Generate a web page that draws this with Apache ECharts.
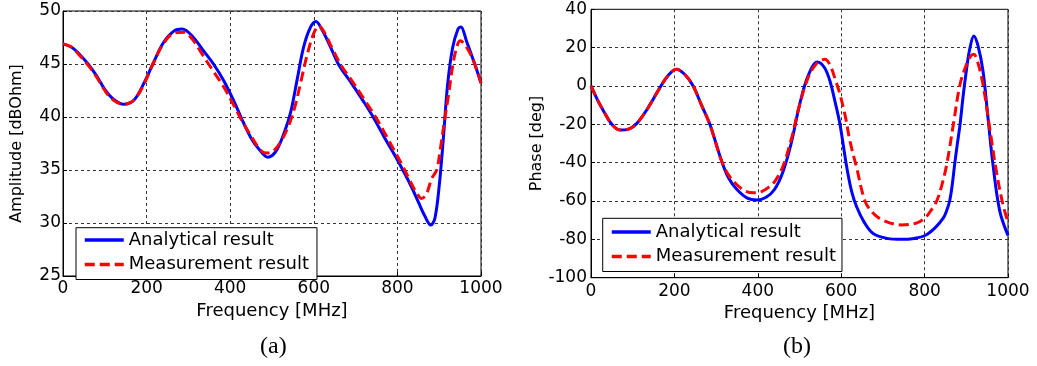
<!DOCTYPE html>
<html>
<head>
<meta charset="utf-8">
<script src="https://cdn.jsdelivr.net/npm/echarts@6/dist/echarts.min.js"></script>
<style>
  html, body { margin: 0; padding: 0; background: #fff; }
  #chart { width: 1037px; height: 366px; }
</style>
</head>
<body>
<div id="chart"></div>
<script>
// ---------- DATA ----------
const seriesNames = ['Analytical result', 'Measurement result'];
const xTickValues = [0, 200, 400, 600, 800, 1000];

// (a) Amplitude [dBOhm]
const ampFreqAnalytical = [0, 20, 40, 60, 80, 100, 120, 145, 170, 195, 215, 240, 265, 285, 310, 335, 360, 385, 410, 430, 450, 470, 490, 510, 530, 545, 560, 575, 590, 605, 620, 640, 660, 690, 720, 742, 770, 795, 813, 830, 850, 865, 880, 890, 900, 910, 920, 932, 945, 952, 965, 985, 1000];
const ampAnalytical = [46.9, 46.6, 45.9, 45.0, 43.9, 42.6, 41.7, 41.2, 41.6, 43.3, 45.0, 47.0, 48.1, 48.3, 47.6, 46.3, 45.0, 43.4, 41.4, 39.6, 38.0, 36.9, 36.2, 36.8, 38.6, 40.5, 43.5, 46.5, 48.3, 49.0, 48.2, 46.6, 44.9, 43.2, 41.4, 40.0, 38.0, 36.3, 35.0, 33.7, 32.0, 30.7, 29.8, 30.5, 33.5, 38.0, 43.0, 46.5, 48.3, 48.5, 47.2, 45.0, 43.2];
const ampFreqMeasured = [0, 20, 40, 60, 80, 100, 120, 145, 170, 195, 215, 240, 265, 290, 310, 335, 360, 385, 410, 430, 450, 470, 485, 500, 520, 540, 555, 570, 585, 600, 612, 625, 645, 665, 695, 725, 748, 775, 800, 815, 830, 845, 858, 870, 882, 894, 902, 914, 922, 933, 942, 950, 960, 980, 1000];
const ampMeasured = [46.9, 46.6, 45.8, 44.9, 43.8, 42.5, 41.6, 41.2, 41.6, 43.2, 45.0, 46.9, 47.9, 48.0, 47.3, 45.8, 44.3, 42.8, 41.0, 39.5, 38.2, 37.0, 36.6, 36.7, 37.6, 39.2, 41.0, 43.5, 46.0, 47.9, 48.6, 48.0, 46.4, 44.9, 43.2, 41.4, 40.0, 38.1, 36.3, 35.2, 34.0, 32.9, 32.3, 32.8, 34.2, 35.0, 36.8, 40.0, 42.0, 45.0, 46.6, 47.2, 46.9, 45.5, 43.2];

// (b) Phase [deg]
const phaseFreqAnalytical = [0, 15, 30, 50, 70, 90, 110, 135, 165, 185, 205, 225, 245, 265, 285, 313, 330, 350, 375, 397, 420, 440, 460, 480, 500, 520, 543, 560, 573, 585, 597, 613, 625, 637, 655, 677, 710, 745, 775, 801, 825, 845, 853, 860, 866, 872, 878, 885, 892, 900, 908, 918, 928, 940, 952, 964, 980, 1000];
const phaseAnalytical = [0, -7, -13, -20, -23, -22.5, -19.5, -12, -1, 5.5, 8.7, 6, 0, -10, -20, -39, -48, -54, -58.5, -59.5, -58, -54, -45, -30, -10, 5, 12.5, 9.5, 2.6, -8, -20, -42, -55, -63, -71, -77, -79.5, -80, -79.5, -78, -74, -68.8, -65, -60, -52, -41, -31, -20, -6, 7.8, 19, 26.1, 21, 7.8, -16.5, -41, -65, -78];
const phaseFreqMeasured = [0, 15, 30, 50, 70, 90, 110, 135, 165, 185, 205, 225, 245, 265, 285, 313, 330, 350, 370, 390, 410, 425, 440, 460, 480, 500, 520, 540, 561, 573, 585, 597, 610, 621, 637, 657, 675, 700, 745, 780, 801, 815, 829, 841, 853, 869, 885, 900, 910, 918, 928, 940, 956, 972, 988, 1000];
const phaseMeasured = [0, -7, -13, -20, -23, -22.5, -19.5, -12, -1, 5.5, 8.7, 6, 0, -10, -20, -39, -46.5, -51.5, -54.8, -55.7, -55, -53, -50, -42, -28, -10, 4, 11.5, 13.9, 11, 4, -4.3, -16, -28.7, -42.6, -60, -66, -70, -72.5, -71.5, -68.8, -65, -60, -52, -41, -20, 0.9, 11, 15.5, 16.5, 12, 0.9, -21.8, -44.4, -62, -71];

// ---------- BUILD ----------
function zip(xs, ys) { return xs.map((x, i) => [x, ys[i]]); }

const FONT = 'DejaVu Sans';
const gridLine = { show: true, lineStyle: { color: '#333', width: 1, type: [3, 3] } };

function xAxisCfg(gridIndex, labelMargin, nameGap) {
  return {
    type: 'value', gridIndex, min: 0, max: 1000, interval: 200,
    name: 'Frequency [MHz]', nameLocation: 'middle', nameGap,
    nameTextStyle: { fontFamily: FONT, fontSize: 18, color: '#000' },
    axisLine: { show: true, onZero: false, lineStyle: { color: '#000', width: 1 } },
    axisTick: { show: true, inside: true, length: 4, lineStyle: { color: '#000' } },
    axisLabel: { fontFamily: FONT, fontSize: 17, color: '#000', margin: labelMargin,
      formatter: v => String(v) },
    splitLine: gridLine
  };
}
function yAxisCfg(gridIndex, min, max, interval, name, labelMargin, nameGap) {
  return {
    type: 'value', gridIndex, min, max, interval,
    name, nameLocation: 'middle', nameGap, nameRotate: 90,
    nameTextStyle: { fontFamily: FONT, fontSize: 16, color: '#000' },
    axisLine: { show: true, onZero: false, lineStyle: { color: '#000', width: 1 } },
    axisTick: { show: true, inside: true, length: 4, lineStyle: { color: '#000' } },
    axisLabel: { fontFamily: FONT, fontSize: 17, color: '#000', margin: labelMargin,
      formatter: v => String(v) },
    splitLine: gridLine
  };
}

const blueStyle = { color: '#0000ff', width: 3, type: 'solid' };
const redStyle = { color: '#ff0000', width: 3, type: [10, 5] };

function lineSeries(name, xi, yi, data, style, z) {
  return {
    name, type: 'line', xAxisIndex: xi, yAxisIndex: yi, data,
    smooth: 0.35, symbol: 'none', showSymbol: false, z,
    lineStyle: style, itemStyle: { color: style.color }, clip: true
  };
}

function legendCfg(left, top, padding) {
  return {
    data: seriesNames.slice(),
    orient: 'vertical', left, top, padding,
    itemWidth: 39, itemHeight: 16, itemGap: 6.5,
    itemStyle: { opacity: 0 },
    lineStyle: { width: 3.5 },
    backgroundColor: '#fff', borderColor: '#000', borderWidth: 1, borderRadius: 0,
    textStyle: { fontFamily: FONT, fontSize: 18, color: '#000', lineHeight: 16 },
    z: 10
  };
}

const chart = echarts.init(document.getElementById('chart'), null, { renderer: 'canvas' });
chart.setOption({
  animation: false,
  backgroundColor: '#fff',
  grid: [
    { left: 63, top: 11, width: 418, height: 265, show: true, borderColor: '#000', borderWidth: 1, backgroundColor: 'transparent' },
    { left: 591, top: 9.3, width: 417, height: 268.4, show: true, borderColor: '#000', borderWidth: 1, backgroundColor: 'transparent' }
  ],
  xAxis: [ xAxisCfg(0, 4, 23), xAxisCfg(1, 5, 22) ],
  yAxis: [
    yAxisCfg(0, 25, 50, 5, 'Amplitude [dBOhm]', 2, 38),
    yAxisCfg(1, -100, 40, 20, 'Phase [deg]', 4, 42)
  ],
  legend: [
    legendCfg(76, 227.7, [3.3, 8, 6, 7]),
    legendCfg(602.7, 218.3, [4.7, 6, 6, 7.3])
  ],
  series: [
    lineSeries(seriesNames[0], 0, 0, zip(ampFreqAnalytical, ampAnalytical), blueStyle, 2),
    lineSeries(seriesNames[1], 0, 0, zip(ampFreqMeasured, ampMeasured), redStyle, 3),
    lineSeries(seriesNames[0], 1, 1, zip(phaseFreqAnalytical, phaseAnalytical), blueStyle, 2),
    lineSeries(seriesNames[1], 1, 1, zip(phaseFreqMeasured, phaseMeasured), redStyle, 3)
  ],
  graphic: [
    { type: 'text', left: 260, top: 335, style: { text: '(a)', font: '24px "Liberation Serif"', fill: '#000' } },
    { type: 'text', left: 783, top: 335, style: { text: '(b)', font: '24px "Liberation Serif"', fill: '#000' } }
  ]
});
</script>
</body>
</html>
